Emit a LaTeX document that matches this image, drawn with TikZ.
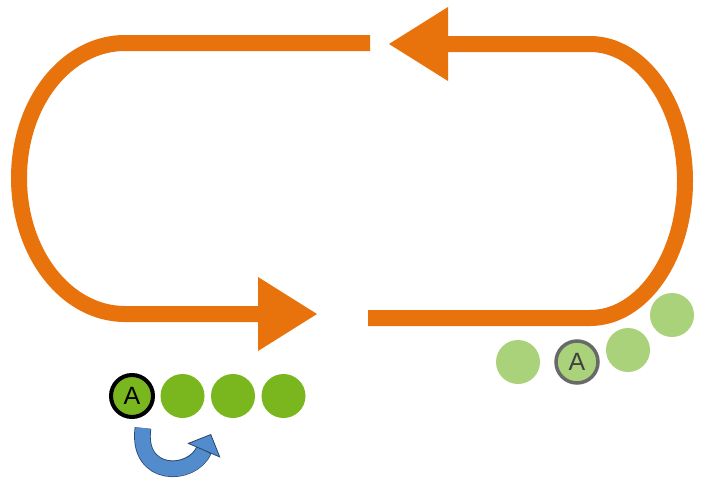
\documentclass[tikz,border=0pt]{standalone}
\usepackage{fontspec}
\setsansfont{Liberation Sans}
\usetikzlibrary{positioning, arrows.meta}
\definecolor{trackorange}{RGB}{232,114,12}
\definecolor{fullgreen}{RGB}{122,183,30}
\definecolor{faintgreen}{RGB}{170,210,122}
\definecolor{ringgray}{RGB}{105,105,105}
\definecolor{turnblue}{RGB}{82,140,204}
\definecolor{turnline}{RGB}{40,70,110}

\begin{document}
\begin{tikzpicture}[x=1pt, y=-1pt, node distance=50.5pt, on grid,
		track/.style={trackorange, line width=16pt, -{Triangle[length=59pt, width=74pt, line width=0pt]}},
		ball/.style={circle, minimum size=44pt, inner sep=0pt, font=\sffamily\fontsize{25}{25}\selectfont},
		fullball/.style={ball, fill=fullgreen},
		faintball/.style={ball, fill=faintgreen}]
			\useasboundingbox[fill=white] (0,0) rectangle (715,482);
			% the two halves of the track
			\draw[track] (370,43) -- (125,43) .. controls (66,43) and (19,103) .. (19,178)
				.. controls (19,253) and (66,314) .. (125,314) -- (317,314);
			\draw[track] (368,318) -- (590,318) .. controls (642,318) and (685,257) .. (685,181)
				.. controls (685,105) and (642,44) .. (590,44) -- (389,44);
			% waiting row
			\node[fullball, draw=black, line width=4pt, minimum size=42pt] (gA) at (132,396) {A};
			\node[fullball] (g2) [right=of gA] {};
			\node[fullball] (g3) [right=of g2] {};
			\node[fullball] (g4) [right=of g3] {};
			% row on the track
			\node[faintball] (f1) at (518,362) {};
			\node[faintball, draw=ringgray, line width=3.5pt, minimum size=42pt, text=black!75] (fA) at (577,362) {A};
			\node[faintball] (f3) at (628,350) {};
			\node[faintball] (f4) at (672,315) {};
			% turn arrow under A
			\coordinate (turnS) at (143,428);
			\coordinate (turnE) at (211,434);
			\draw[turnblue, line width=15pt, -{Triangle[length=18pt, width=36pt, line width=0.8pt, color=turnline, fill=turnblue]},
				preaction={draw=turnline, line width=16.6pt, shorten >=17pt, -}]
				(turnS) .. controls (136,478) and (192,478) .. (turnE);
		\end{tikzpicture}
\end{document}
